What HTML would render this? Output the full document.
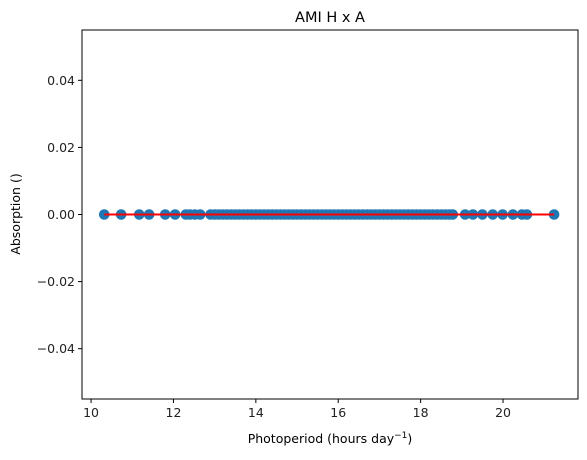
<!DOCTYPE html>
<html><head><meta charset="utf-8"><style>
body{margin:0;background:#fff;}
svg{display:block;font-family:"DejaVu Sans","Liberation Sans",sans-serif;}
</style></head><body>
<svg id="chart" width="587" height="460" xmlns="http://www.w3.org/2000/svg">
<g id="marks"></g>
<g id="axes"></g>
<text x="330" y="22" text-anchor="middle" font-size="14.5">AMI H x A</text>
<text x="330" y="443" text-anchor="middle" font-size="12.5">Photoperiod (hours day<tspan dy="-5" font-size="9">−1</tspan><tspan dy="5">)</tspan></text>
<text transform="translate(20,214) rotate(-90)" text-anchor="middle" font-size="12.5">Absorption ()</text>
</svg>
<script>
const xValues=[10.32,10.73,11.17,11.41,11.8,12.04,12.3,12.4,12.52,12.65,12.9,13.0,13.1,13.2,13.3,13.4,13.5,13.6,13.7,13.8,13.9,14.0,14.1,14.2,14.3,14.4,14.5,14.6,14.7,14.8,14.9,15.0,15.1,15.2,15.3,15.4,15.5,15.6,15.7,15.8,15.9,16.0,16.1,16.2,16.3,16.4,16.5,16.6,16.7,16.8,16.9,17.0,17.1,17.2,17.3,17.4,17.5,17.6,17.7,17.8,17.9,18.0,18.1,18.2,18.3,18.4,18.5,18.6,18.7,18.78,19.08,19.27,19.5,19.75,19.99,20.24,20.46,20.58,21.24];
const yValues=xValues.map(()=>0);
const fitLine=[[10.32,0],[21.24,0]];
const xTicks=[10,12,14,16,18,20];
const yTicks=[-0.04,-0.02,0.00,0.02,0.04];
const L=82,R=578,T=30,B=399;
const xMin=9.78,xMax=21.82,yMin=-0.055,yMax=0.055;
const sx=v=>L+(v-xMin)/(xMax-xMin)*(R-L);
const sy=v=>B-(v-yMin)/(yMax-yMin)*(B-T);
const NS="http://www.w3.org/2000/svg";
const marks=document.getElementById('marks'),axes=document.getElementById('axes');
function mk(tag,attrs,parent){const e=document.createElementNS(NS,tag);for(const k in attrs)e.setAttribute(k,attrs[k]);parent.appendChild(e);return e;}
xValues.forEach((x,i)=>{const c=mk('circle',{cx:sx(x),cy:sy(yValues[i]),r:5.3,fill:'#1f77b4'},marks);

});
const ln=mk('line',{x1:sx(fitLine[0][0]),y1:sy(fitLine[0][1]),x2:sx(fitLine[1][0]),y2:sy(fitLine[1][1]),stroke:'#ff0000','stroke-width':2},marks);


const frame=mk('rect',{x:L,y:T,width:R-L,height:B-T,fill:'none',stroke:'#000','stroke-width':1},axes);


xTicks.forEach(t=>{const x=sx(t);mk('line',{x1:x,y1:B,x2:x,y2:B+4,stroke:'#000'},axes);
const tx=mk('text',{x:x,y:B+18,'text-anchor':'middle','font-size':12.5,fill:'#222'},axes);tx.textContent=t;

});
yTicks.forEach(t=>{const y=sy(t);mk('line',{x1:L-4,y1:y,x2:L,y2:y,stroke:'#000'},axes);
const tx=mk('text',{x:L-7,y:y+4.5,'text-anchor':'end','font-size':12.5,fill:'#222'},axes);tx.textContent=(t<0?'−':'')+Math.abs(t).toFixed(2);

});
</script>
</body></html>
